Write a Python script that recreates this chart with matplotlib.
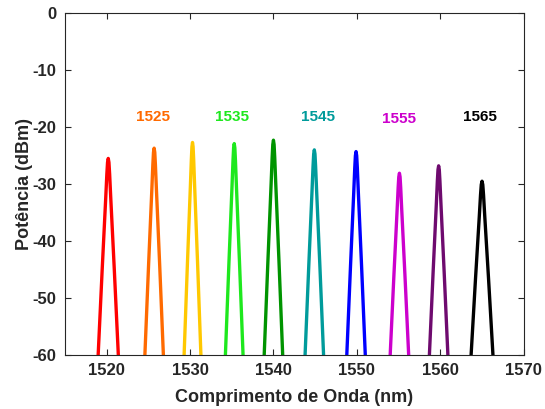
import matplotlib.pyplot as plt
import numpy as np

plt.rcParams['font.family'] = ['Liberation Sans', 'DejaVu Sans']
plt.rcParams['font.weight'] = 'bold'
plt.rcParams['axes.unicode_minus'] = False

# Peak centres (nm), peak power (dBm), half width at -60 dBm (nm)
centers = [1520.2, 1525.7, 1530.3, 1535.3, 1540.0, 1544.9, 1549.9, 1555.1, 1559.8, 1565.0]
peaks = [-25.5, -23.7, -22.7, -22.9, -22.3, -24.0, -24.3, -28.1, -26.8, -29.5]
half_widths = [1.2, 1.1, 1.0, 1.05, 1.1, 1.1, 1.1, 1.1, 1.1, 1.3]
colors = ['#FF0000', '#FF6A00', '#FFC800', '#1EE81E', '#009400', '#009B9B',
          '#0000FF', '#CC00CC', '#6E0A6E', '#000000']

# Shape of one peak: offset (in half widths) and fraction of the drop to -60 dBm
profile_offset = [-1.1, -0.6, -0.25, -0.14, -0.07, 0.0, 0.07, 0.14, 0.25, 0.6, 1.1]
profile_drop = [1.1, 0.56, 0.2, 0.08, 0.02, 0.0, 0.02, 0.08, 0.2, 0.56, 1.1]

# Wavelength labels above the peaks
label_text = ['1525', '1535', '1545', '1555', '1565']
label_x = [1525.6, 1535.0, 1545.3, 1555.0, 1564.7]
label_y = [-18.3, -18.3, -18.3, -18.6, -18.3]
label_colors = ['#FF6A00', '#1EE81E', '#009B9B', '#CC00CC', '#000000']

fig = plt.figure(figsize=(5.45, 4.09), dpi=100)
ax = fig.add_axes([0.119, 0.132, 0.842, 0.836])

for c, p, hw, col in zip(centers, peaks, half_widths, colors):
    x = c + hw * np.array(profile_offset)
    y = p + (-60 - p) * np.array(profile_drop)
    ax.plot(x, y, color=col, linewidth=2.4)

for t, x, y, col in zip(label_text, label_x, label_y, label_colors):
    ax.text(x, y, t, color=col, fontsize=11, fontweight='bold', ha='center', va='center')

ax.set_xlim(1515, 1570)
ax.set_ylim(-60, 0)
ax.set_xticks(np.arange(1520, 1571, 10))
ax.set_yticks(np.arange(-60, 1, 10))
ax.tick_params(direction='in', top=True, right=True, labelsize=12, colors='#262626',
               length=4, width=0.8, pad=6)
for s in ax.spines.values():
    s.set_color('#262626')
    s.set_linewidth(0.8)
ax.set_xlabel('Comprimento de Onda (nm)', fontsize=13, fontweight='bold', color='#262626',
              labelpad=8)
ax.set_ylabel('Potência (dBm)', fontsize=13, fontweight='bold', color='#262626',
              labelpad=0)

fig.savefig('out.png', dpi=100)
